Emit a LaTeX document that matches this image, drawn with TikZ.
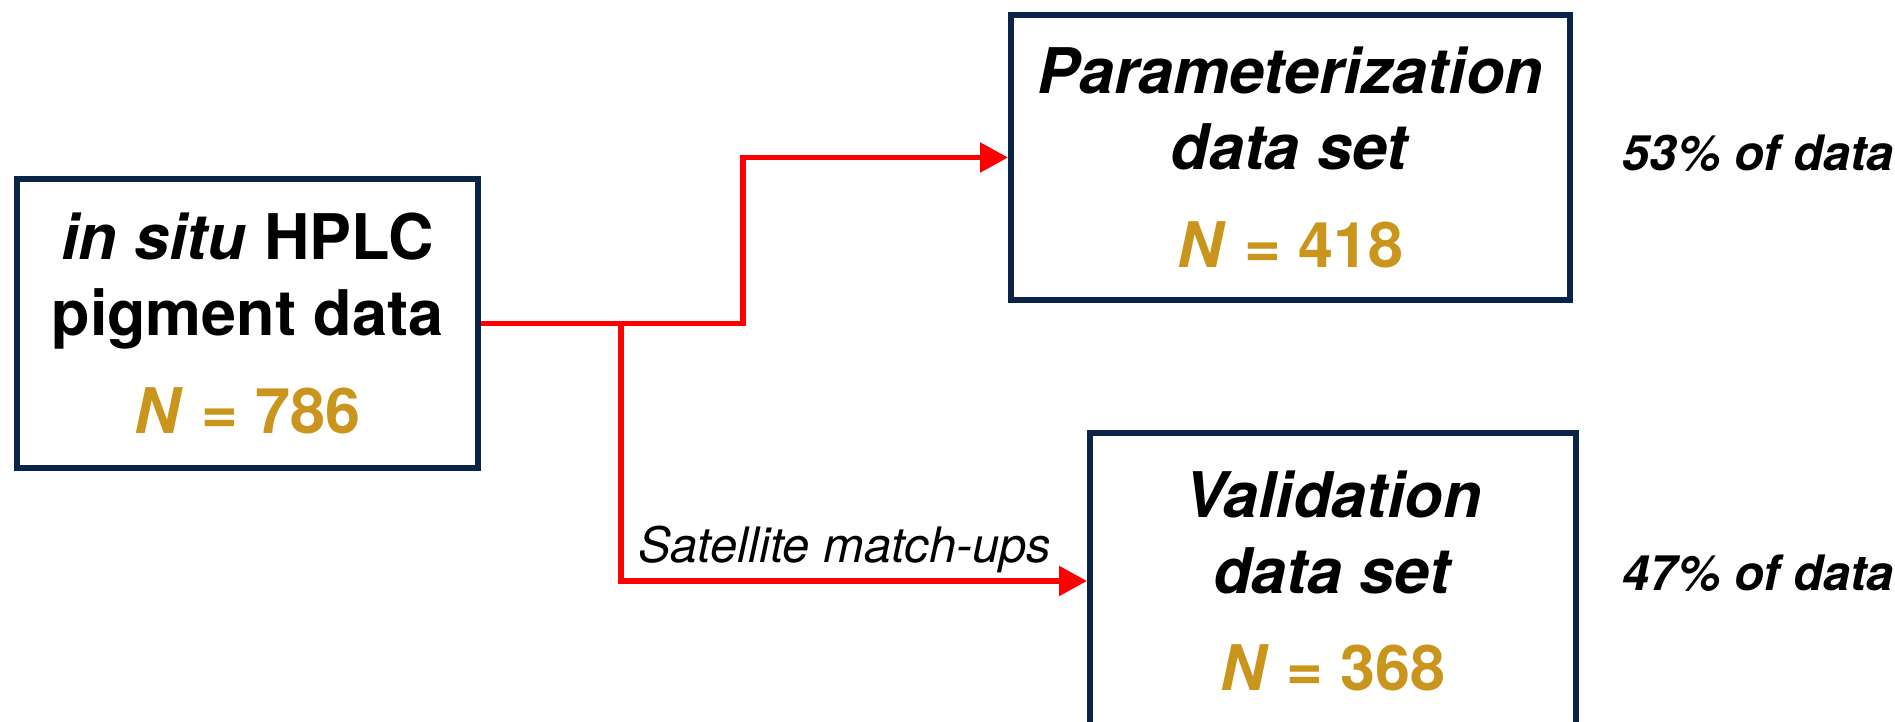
\documentclass[tikz,border=0pt]{standalone}
\usepackage{fontspec}
\setmainfont{TeX Gyre Heros}
\usetikzlibrary{arrows.meta, positioning, calc}
\definecolor{boxnavy}{RGB}{10,36,72}
\definecolor{countgold}{RGB}{201,149,28}
\tikzset{
  databox/.style={draw=boxnavy, line width=0.06cm, fill=white, align=center, inner sep=0pt, font=\fontsize{17.9}{21.6}\selectfont\bfseries},
  share/.style={anchor=base west, inner sep=0pt, font=\fontsize{13.9}{16}\selectfont\bfseries\itshape},
  tag/.style={inner sep=0.05cm, font=\fontsize{13.9}{16}\selectfont\itshape},
  flowline/.style={draw=red, line width=0.055cm},
  flowarrow/.style={flowline, -{Triangle[length=0.28cm, width=0.29cm]}}
}
\newcommand{\ncount}[1]{\textcolor{countgold}{\textit{N} = #1}}

\begin{document}
\begin{tikzpicture}[x=1cm, y=1cm]
  \useasboundingbox (0,0) rectangle (18.95,-7.21);
  \clip (0,0) rectangle (18.95,-7.21);

  % Boxes
  \node[databox, minimum width=4.61cm, minimum height=2.89cm] (insitu) at (2.475,-3.235)
    {\textit{in situ} HPLC\\pigment data\\[0.22cm]\ncount{786}};
  \node[databox, minimum width=5.59cm, minimum height=2.85cm] (param) at (12.905,-1.575)
    {\textit{Parameterization}\\\textit{data set}\\[0.22cm]\ncount{418}};
  \node[databox, minimum width=4.86cm, minimum height=2.96cm] (valid) at (13.33,-5.81)
    {\textit{Validation}\\\textit{data set}\\[0.22cm]\ncount{368}};

  % Shares of the data
  \node[share] (parshare) at (16.22,-1.70) {53\% of data};
  \node[share] (valshare) at (16.22,-5.90) {47\% of data};

  % Split of the data
  \coordinate (split) at ($(insitu.east)+(1.40,0)$);
  \draw[flowline] (insitu.east) -- (split);
  \draw[flowarrow] (split) -- ++(1.22,0) |- (param.west);
  \draw[flowarrow] (split) |- node[tag, above, pos=0.74] {Satellite match-ups} (valid.west);
\end{tikzpicture}
\end{document}
